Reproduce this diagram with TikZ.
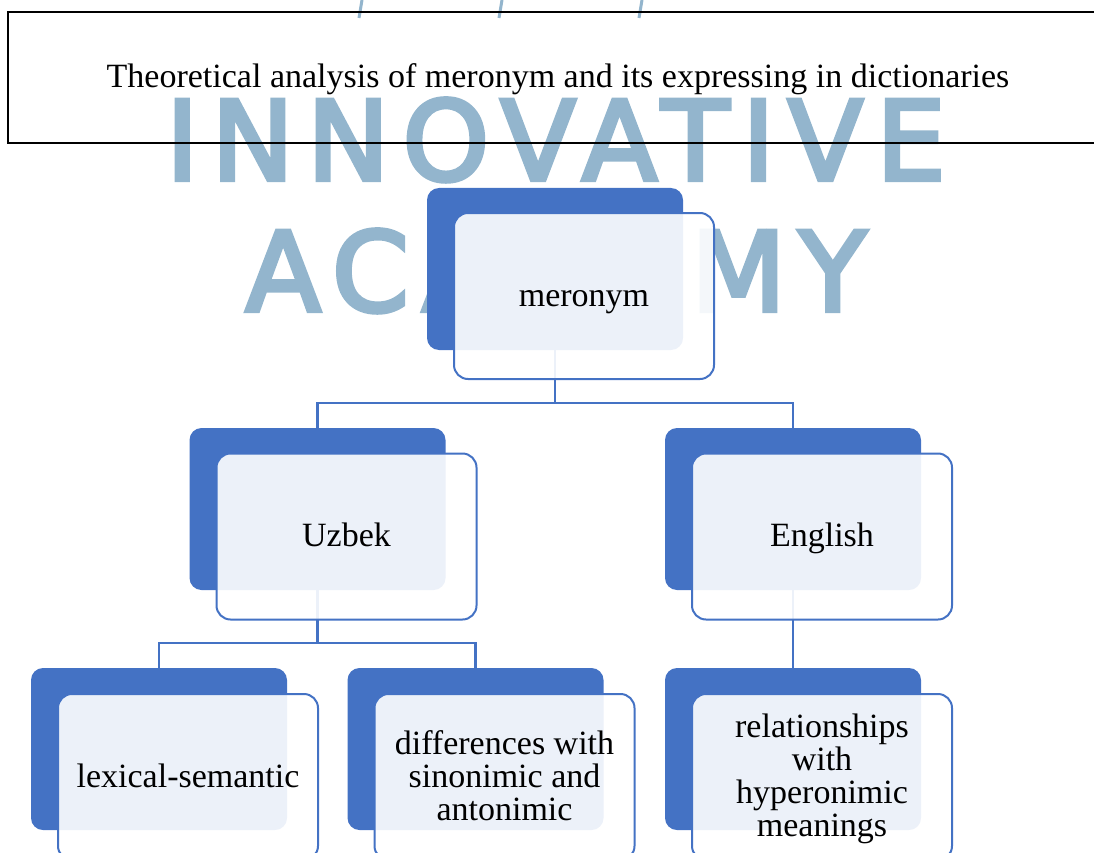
\documentclass[tikz,border=0pt]{standalone}
\usepackage{fontspec}
\setmainfont{Liberation Serif}
\newfontfamily\wmfont{DejaVu Sans}[FakeBold=4, LetterSpace=12]
\definecolor{boxblue}{RGB}{68,114,196}
\definecolor{wmblue}{RGB}{147,181,205}
\tikzstyle{back}=[rectangle, rounded corners=12pt, fill=boxblue, minimum width=256pt, minimum height=162pt, inner sep=0pt]
\tikzstyle{front}=[rectangle, rounded corners=14pt, draw=boxblue, line width=2pt, fill=white, fill opacity=0.9, text opacity=1, minimum width=260pt, minimum height=166pt, inner sep=0pt, align=center, font=\fontsize{34}{33}\selectfont]
\tikzstyle{link}=[draw=boxblue, line width=2.5pt]
\tikzstyle{wm}=[text=wmblue, inner sep=0pt, font=\wmfont\fontsize{110}{110}\selectfont]
\tikzstyle{titlebox}=[rectangle, draw=black, line width=2pt, minimum width=1100pt, minimum height=131pt, inner sep=0pt, font=\fontsize{34}{33}\selectfont]
\newcommand{\topgap}{\rule{0pt}{30pt}}
\newcommand{\botgap}{\rule[-10pt]{0pt}{10pt}}

\begin{document}
\begin{tikzpicture}[x=1pt, y=-1pt]
    \clip (0,0) rectangle (1094,853);
    % watermark
    \node[wm, anchor=base] (wm1) at (556,180) {INNOVATIVE};
    \node[wm, anchor=base] (wm2) at (556,311) {ACADEMY};
    \draw[wmblue, line width=3pt] (362,0) -- (359,18);
    \draw[wmblue, line width=3pt] (502,0) -- (499,18);
    \draw[wmblue, line width=3pt] (642,0) -- (639,18);

    \node[titlebox] (title) at (558,77.5) {\topgap Theoretical analysis of meronym and its expressing in dictionaries\botgap};

    \node[back] (meroB) at (555,269) {};
    \node[back] (uzbB) at (317.5,509) {};
    \node[back] (engB) at (793,509) {};
    \node[back] (lexB) at (159,749) {};
    \node[back] (difB) at (475.5,749) {};
    \node[back] (relB) at (793,749) {};

    \draw[link] (meroB.south) -- ++(0,53) -| (uzbB.north);
    \draw[link] (meroB.south) -- ++(0,53) -| (engB.north);
    \draw[link] (uzbB.south) -- ++(0,53) -| (lexB.north);
    \draw[link] (uzbB.south) -- ++(0,53) -| (difB.north);
    \draw[link] (engB.south) -- (relB.north);

    \node[front] (meroF) at (584,296) {\topgap meronym\botgap};
    \node[front] (uzbF) at (346.5,536.5) {\topgap Uzbek\botgap};
    \node[front] (engF) at (822,536.5) {\topgap English\botgap};
    \node[front] (lexF) at (188,777) {\topgap lexical-semantic\botgap};
    \node[front] (difF) at (504.5,777) {\topgap differences with\\ sinonimic and\\ antonimic\botgap};
    \node[front] (relF) at (822,777) {\topgap relationships\\ with\\ hyperonimic\\ meanings\botgap};
\end{tikzpicture}
\end{document}
